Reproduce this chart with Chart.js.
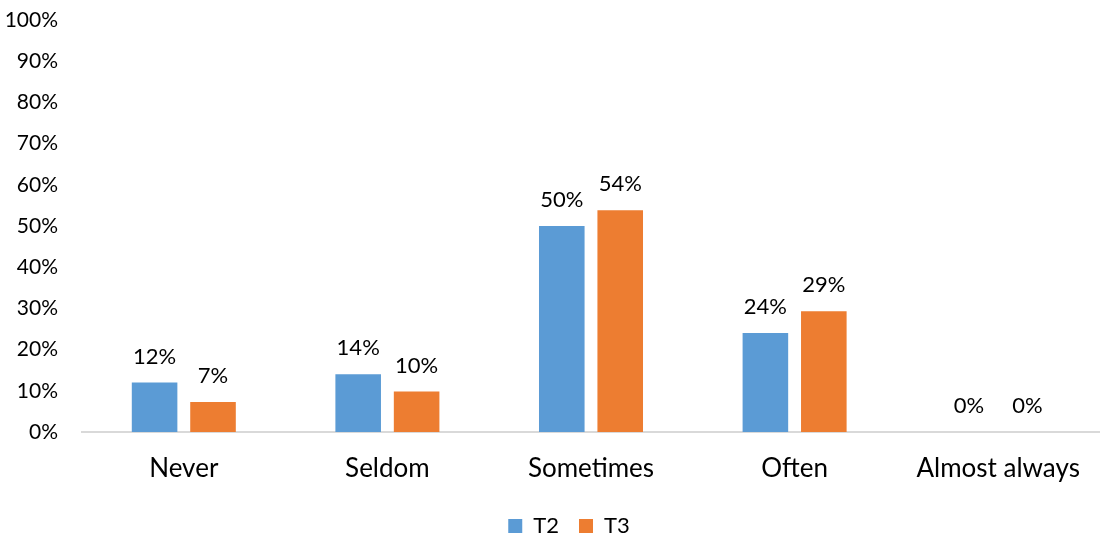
<!DOCTYPE html>
<html>
<head>
<meta charset="utf-8">
<script src="https://cdn.jsdelivr.net/npm/chart.js@4/dist/chart.umd.min.js"></script>
<style>
html,body{margin:0;padding:0;background:#fff}
</style>
</head>
<body>
<canvas id="freqChart" width="1100" height="537"></canvas>
<script>
/* ---------------- DATA ---------------- */

const categories = ["Never","Seldom","Sometimes","Often","Almost always"]
const t2Values = [12,14,50,24,0]
const t3Values = [7.3,9.8,53.8,29.3,0]
const t2Labels = ["12%","14%","50%","24%","0%"]
const t3Labels = ["7%","10%","54%","29%","0%"]
const yTicks = [0,10,20,30,40,50,60,70,80,90,100]

const FONT = "Lato, 'Open Sans', sans-serif"

/* value labels over each bar */
const barLabels = {
id:"barLabels",
afterDatasetsDraw(chart){
const ctx = chart.ctx
const texts = [t2Labels,t3Labels]
ctx.save()
ctx.font = "22px " + FONT
ctx.fillStyle = "#000"
ctx.textAlign = "center"
ctx.textBaseline = "alphabetic"
chart.data.datasets.forEach((ds,i)=>{
chart.getDatasetMeta(i).data.forEach((bar,j)=>{
ctx.fillText(texts[i][j], bar.x, bar.y - 19)
})
})
ctx.restore()
}
}

/* nudge the legend a little to the right */
const legendShift = {
id:"legendShift",
afterLayout(chart){
if(chart.legend){
chart.legend.left += 14
chart.legend.right += 14
}
}
}

new Chart(document.getElementById("freqChart"),{
type:"bar",
data:{
labels:categories,
datasets:[
{
label:"T2",
data:t2Values,
backgroundColor:"#5B9BD5",
barPercentage:0.78,
categoryPercentage:0.574
},
{
label:"T3",
data:t3Values,
backgroundColor:"#ED7D31",
barPercentage:0.78,
categoryPercentage:0.574
}
]
},
options:{
responsive:false,
animation:false,
devicePixelRatio:1,
layout:{padding:{top:0,right:-10,left:0,bottom:-10}},
plugins:{
legend:{
position:"bottom",
labels:{
boxWidth:14,
boxHeight:14,
padding:20,
color:"#000",
font:{family:FONT,size:22}
}
},
tooltip:{enabled:false}
},
scales:{
x:{
grid:{display:false},
border:{display:true,color:"#d9d9d9",width:2},
ticks:{color:"#000",font:{family:FONT,size:26},padding:13,maxRotation:0},
afterFit(scale){
scale.height = 63
scale.paddingRight = -10
}
},
y:{
min:0,
max:100,
afterBuildTicks(scale){
scale.ticks = yTicks.map(v=>({value:v}))
},
afterFit(scale){
scale.width = 82
scale.paddingTop = 20
},
grid:{display:false},
border:{display:false},
ticks:{
color:"#000",
font:{family:FONT,size:21},
padding:16,
callback:v=>v+"%"
}
}
}
},
plugins:[barLabels,legendShift]
})
</script>
</body>
</html>
